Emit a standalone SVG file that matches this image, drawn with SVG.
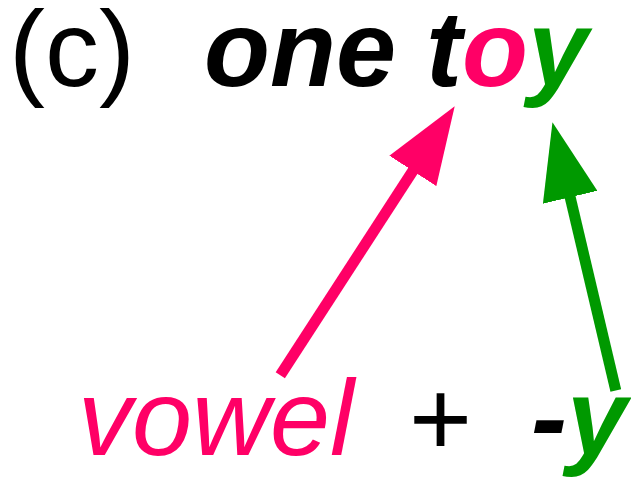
<svg xmlns="http://www.w3.org/2000/svg" width="631" height="478" viewBox="0 0 631 478">
<style>
text{font-family:"Liberation Sans",Arial,sans-serif;font-size:108px}
.bi{font-weight:bold;font-style:italic}
.it{font-style:italic}
.pink{fill:#FF0066}
.green{fill:#009900}
.blk{fill:#000000}
.conn{stroke-width:11;fill:none;stroke-linecap:butt}
</style>
<defs>
<marker id="headPink" markerUnits="userSpaceOnUse" viewBox="0 0 77 56" markerWidth="77" markerHeight="56" refX="2" refY="28" orient="auto">
<path d="M0,0 L77,28 L0,56 Z" fill="#FF0066"/>
</marker>
<marker id="headGreen" markerUnits="userSpaceOnUse" viewBox="0 0 77 56" markerWidth="77" markerHeight="56" refX="2" refY="28" orient="auto">
<path d="M0,0 L77,28 L0,56 Z" fill="#009900"/>
</marker>
</defs>
<g id="label-c"><text x="9" y="86" class="blk">(c)</text></g>
<g id="phrase"><text x="204" y="86" class="bi blk">one t<tspan class="pink">o</tspan><tspan class="green">y</tspan></text></g>
<g id="vowel"><text x="78" y="455" class="it pink">vowel</text></g>
<g id="plus"><text x="409" y="455" class="blk">+</text></g>
<g id="suffix-y"><text x="531" y="455" class="bi blk">-<tspan class="green">y</tspan></text></g>
<g id="connectors">
<line class="conn" x1="280.3" y1="375.3" x2="413.9" y2="169.2" stroke="#FF0066" marker-end="url(#headPink)"/>
<line class="conn" x1="615.8" y1="390.5" x2="569.7" y2="195.3" stroke="#009900" marker-end="url(#headGreen)"/>
</g>
</svg>
